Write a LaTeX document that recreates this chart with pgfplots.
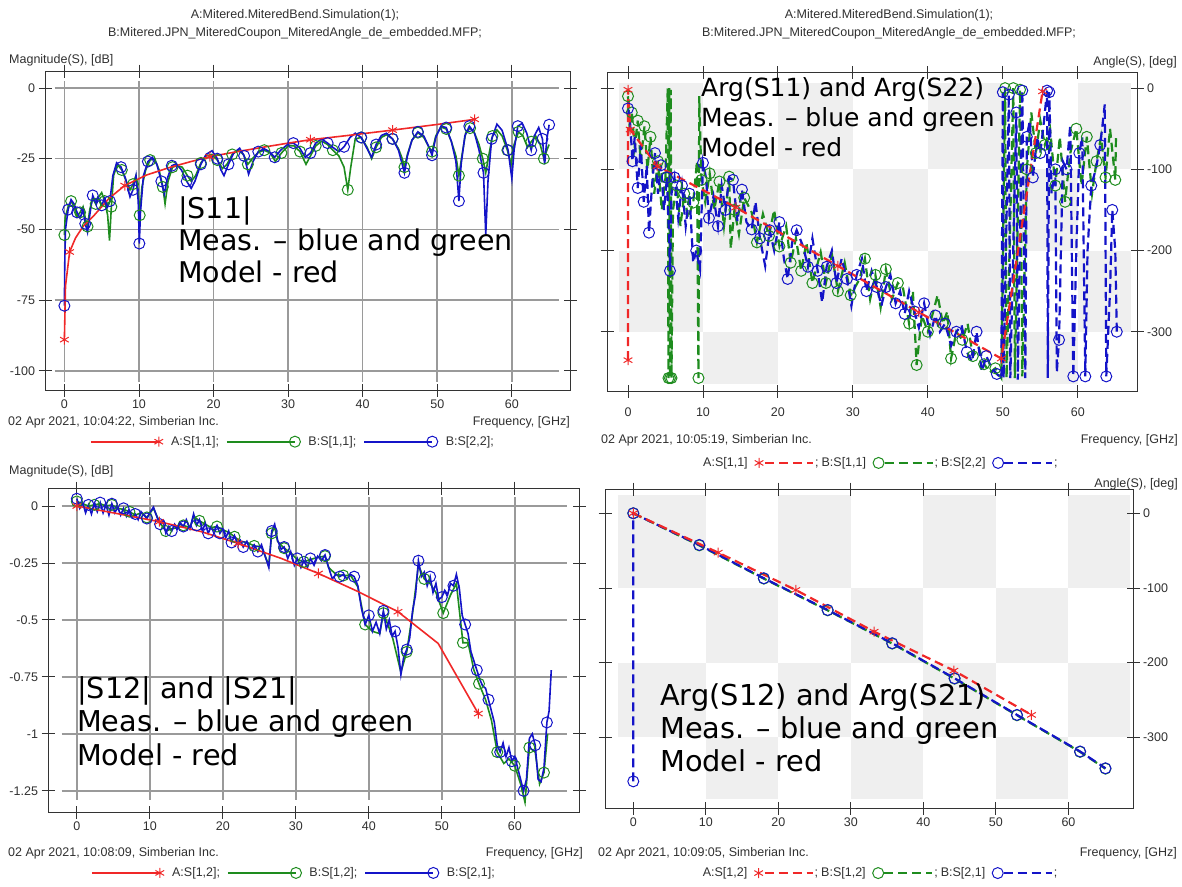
\documentclass[border=0pt]{standalone}
\usepackage{fontspec}
\setmainfont{Liberation Sans}
\newfontfamily\annof{DejaVu Sans}
\usepackage{xcolor}
\definecolor{cR}{HTML}{F02828}
\definecolor{cG}{HTML}{1E8C1E}
\definecolor{cB}{HTML}{1414C8}
\definecolor{gridc}{HTML}{9A9A9A}
\definecolor{chk}{HTML}{EFEFEF}
\definecolor{txt}{HTML}{303030}
\usepackage{pgfplots}
\pgfplotsset{compat=1.18}
\newcommand\smallf{\fontsize{12.5}{14}\selectfont}

\pgfplotsset{
  simbase/.style={
    scale only axis, set layers,
    axis line style={line width=1pt, black!80},
    tick align=center, major tick length=13pt,
    tick style={line width=0.9pt, black!80},
    tick label style={font=\smallf, color=txt},
    /pgf/number format/assume math mode=true,
    xtick={0,10,...,60},
    legend style={draw=none, fill=none, font=\smallf, text=txt,
      legend columns=-1, anchor=center, inner sep=0pt},
  },
  solidleg/.style={
    legend style={/tikz/every even column/.append style={column sep=5pt},
      /tikz/every odd column/.append style={column sep=6pt}},
    legend image code/.code={
    \draw[##1, line width=1.8pt] (0pt,0pt) -- (68pt,0pt);
    \draw[##1] plot coordinates {(68pt,0pt)};}},
  dashleg/.style={legend plot pos=right,
    legend style={/tikz/every odd column/.append style={column sep=5pt},
      /tikz/every even column/.append style={column sep=0pt}},
    legend image code/.code={
    \draw[##1] (10pt,0pt) -- (58pt,0pt);
    \draw[##1] plot coordinates {(4pt,0pt)};
    \node[anchor=west, inner sep=1pt, font=\smallf, text=txt] at (58pt,-1pt) {;};}},
  meas/.style={line width=1.6pt, mark=o, mark size=5.5pt, mark options={line width=1pt}},
  mdl/.style={cR, line width=1.6pt, mark=asterisk, mark size=5pt, mark options={line width=1pt}},
  dsh/.style={dash pattern=on 9pt off 5pt, line width=2.2pt, mark=o, mark size=5.5pt, mark options={solid, line width=1pt}},
  dshr/.style={cR, dash pattern=on 9pt off 5pt, line width=2.2pt, mark=asterisk, mark size=5pt, mark options={solid, line width=1pt}},
}

\begin{document}
\begin{tikzpicture}
\path (0,0) rectangle (1182pt,-886pt);

% ---------- top left: |S11|
\begin{axis}[simbase, solidleg, at={(45pt,-390pt)}, anchor=south west,
  width=525pt, height=319pt,
  xmin=-2.6, xmax=67.8, ymin=-106.8, ymax=6.0,
  ytick={0,-25,-50,-75,-100},
  legend style={at={(0.472,-0.162)}}]
\begin{pgfonlayer}{axis background}
\pgfplotsinvokeforeach{0,10,20,30,40,50,60}{\draw[gridc, line width=1.6pt] (axis cs:#1,-103.9) -- (axis cs:#1,2.4);}
\pgfplotsinvokeforeach{0,-25,-50,-75,-100}{\draw[gridc, line width=1.6pt] (axis cs:-1.3,#1) -- (axis cs:66.3,#1);}
\end{pgfonlayer}
\addlegendimage{mdl}\addlegendentry{A:S[1,1];}
\addlegendimage{meas, cG}\addlegendentry{B:S[1,1];}
\addlegendimage{meas, cB}\addlegendentry{B:S[2,2];}
\addplot[meas, cG, mark repeat=3, forget plot] table {
x y
0 -52
0.1 -46
0.5 -42
0.9 -40
1.3 -42
1.7 -45.5
2.1 -44
2.5 -42
2.8 -46
3.1 -49
3.4 -43
3.8 -39
4.2 -41
4.6 -38.5
5.0 -37
5.4 -40
5.8 -45
6.05 -54
6.3 -42
6.6 -31
7.1 -27
7.7 -29
8.3 -33
8.8 -36
9.2 -34
9.6 -31
9.9 -37
10.1 -45
10.4 -35
10.9 -29
11.5 -25.5
12.1 -25
12.7 -29
13.2 -35
13.5 -41
13.9 -33
14.5 -28
15.1 -27.5
15.8 -28
16.5 -31
17.0 -33
17.6 -31
18.3 -26.5
19.0 -24
19.8 -23.5
20.5 -25.5
21.2 -28.5
21.8 -27
22.5 -23.5
23.3 -22
24.0 -23.5
24.6 -27
25.2 -25
26.0 -22.8
26.8 -22
27.6 -23
28.3 -26
29.1 -23
30.0 -20.5
30.8 -20.5
31.6 -22.5
32.4 -27
33.0 -24
33.7 -20.5
34.5 -18.8
35.3 -20
36.0 -22
36.8 -24
37.5 -28
38.0 -36
38.4 -28
39.0 -18
39.8 -17.5
40.6 -21
41.2 -25
41.8 -21
42.5 -17.5
43.2 -16.5
44.0 -18
44.8 -21.5
45.3 -25
45.6 -28
46.0 -23.5
46.6 -18.5
47.4 -15.8
48.2 -17.5
48.9 -21
49.3 -22.5
49.8 -17
50.5 -13.8
51.2 -14.5
51.9 -19
52.5 -24
52.9 -31
53.3 -24
53.8 -16
54.4 -14.2
55.0 -16
55.6 -20
56.1 -25
56.5 -30
56.9 -24
57.4 -17
58.0 -14.8
58.7 -17
59.4 -22
59.9 -27
60.3 -20
60.9 -15.5
61.5 -17
62.1 -21
62.6 -19
63.2 -17
63.8 -20
64.3 -25
64.7 -22
65.0 -20
};
\addplot[meas, cB, mark repeat=3, forget plot] table {
x y
0 -77
0.05 -62
0.15 -50
0.5 -43
0.9 -39.5
1.3 -41
1.7 -44
2.1 -46
2.5 -43
2.8 -48
3.1 -51
3.4 -45
3.8 -38
4.2 -40.5
4.6 -39
5.0 -41.5
5.4 -39
5.8 -42
6.1 -40
6.5 -31
7.0 -26.5
7.6 -28
8.2 -32
8.8 -38.5
9.2 -36
9.6 -31
9.9 -40
10.05 -55
10.2 -44
10.6 -31
11.2 -26
11.8 -24.5
12.4 -27
13.0 -33
13.4 -37.5
13.8 -32
14.4 -27.5
15.0 -26.8
15.7 -29
16.4 -33
17.0 -35.5
17.5 -33
18.3 -27
19.0 -23.5
19.8 -22.2
20.5 -25
21.0 -29
21.4 -31
22.0 -27
22.7 -23
23.5 -21.3
24.1 -24
24.7 -30.5
25.3 -26
26.0 -22.5
26.8 -21.5
27.5 -22.5
28.2 -24.5
29.0 -22
30.0 -19.8
30.7 -19.5
31.5 -21
32.3 -24.5
33.0 -23
33.7 -19.5
34.5 -18
35.3 -19.5
36.0 -21
36.8 -22.5
37.5 -20.8
38.3 -17.5
39.0 -16
39.8 -17.5
40.6 -21.5
41.2 -24.5
41.8 -20
42.5 -16.8
43.2 -16
44.0 -18
44.8 -22
45.3 -27
45.6 -30
46.0 -24
46.6 -18.5
47.4 -15.5
48.2 -17
48.9 -21
49.3 -23.8
49.8 -17.5
50.5 -13.5
51.2 -14
51.9 -19
52.5 -26
52.9 -40
53.2 -27
53.7 -17
54.3 -13.5
55.0 -16
55.6 -22
56.2 -30
56.5 -52
56.8 -33
57.3 -18
58.0 -12.8
58.7 -15
59.5 -22
60.0 -32
60.3 -22
60.8 -13.5
61.4 -12.5
62.0 -16
62.6 -22
63.0 -17
63.6 -14
64.1 -18
64.4 -27
64.7 -18
65.0 -13
};
\addplot[mdl, mark indices={1,3,8,12,16,18,20}, forget plot] table {
x y
0 -89
0.15 -70
0.7 -58
1.5 -53
2.5 -49
4 -45
6 -39
8.1 -34.5
11 -30.8
14 -28.2
17 -26
19.5 -24.3
23 -22.6
27 -20.8
30 -19.5
33 -18.3
38 -16.8
44 -14.9
50 -12.9
55 -11.1
};
\end{axis}

% ---------- top right: Arg(S11), Arg(S22)
\begin{axis}[simbase, dashleg, at={(607pt,-391pt)}, anchor=south west,
  width=530pt, height=318.3pt,
  xmin=-2.8, xmax=67.9, ymin=-373, ymax=19,
  ytick={0,-100,-200,-300}, yticklabel pos=right,
  xticklabel style={yshift=-7pt},
  legend style={at={(0.515,-0.226)}}]
\begin{pgfonlayer}{axis background}
\fill[chk] (axis cs:-1.25,-100) rectangle (axis cs:10,6);
\fill[chk] (axis cs:20,-100) rectangle (axis cs:30,6);
\fill[chk] (axis cs:40,-100) rectangle (axis cs:50,6);
\fill[chk] (axis cs:60,-100) rectangle (axis cs:67.1,6);
\fill[chk] (axis cs:10,-200) rectangle (axis cs:20,-100);
\fill[chk] (axis cs:30,-200) rectangle (axis cs:40,-100);
\fill[chk] (axis cs:50,-200) rectangle (axis cs:60,-100);
\fill[chk] (axis cs:-1.25,-300) rectangle (axis cs:10,-200);
\fill[chk] (axis cs:20,-300) rectangle (axis cs:30,-200);
\fill[chk] (axis cs:40,-300) rectangle (axis cs:50,-200);
\fill[chk] (axis cs:60,-300) rectangle (axis cs:67.1,-200);
\fill[chk] (axis cs:10,-364) rectangle (axis cs:20,-300);
\fill[chk] (axis cs:30,-364) rectangle (axis cs:40,-300);
\fill[chk] (axis cs:50,-364) rectangle (axis cs:60,-300);
\end{pgfonlayer}
\addlegendimage{dshr}\addlegendentry{A:S[1,1]}
\addlegendimage{dsh, cG}\addlegendentry{B:S[1,1]}
\addlegendimage{dsh, cB}\addlegendentry{B:S[2,2]}
\addplot[dsh, cG, mark repeat=2, forget plot] table {
x y
0 -10
0.2 -45
0.5 -30
0.9 -72
1.3 -40
1.7 -90
2.2 -47
2.6 -100
3.0 -60
3.5 -130
4.0 -90
4.5 -150
5.0 -110
5.3 0
5.4 -357
5.5 0
5.6 -357
5.7 -2
5.8 -357
6.0 -150
6.5 -120
7.0 -170
7.5 -130
8.0 -160
8.7 -141
9.2 -90
9.4 -357
9.5 -10
9.8 -113
10.3 -140
10.9 -105
11.5 -150
12.2 -115
12.8 -170
13.5 -109
13.7 -198
14.2 -150
14.8 -180
15.5 -135
16.5 -153
17.2 -190
18.0 -155
18.8 -182
19.5 -150
20.2 -195
21.1 -170
21.7 -215
22.4 -185
23.1 -225
23.8 -190
24.6 -240
25.7 -202
26.4 -240
27.2 -205
28.0 -250
28.9 -215
29.7 -255
30.9 -235
31.6 -210
32.3 -260
33.0 -230
33.7 -270
34.4 -223
35.2 -260
36.0 -240
36.7 -247
37.5 -290
38.0 -250
38.5 -341
39.2 -280
40.0 -300
41.3 -255
42.0 -290
42.6 -275
43.1 -333
43.8 -300
44.6 -310
45.3 -290
46.0 -330
46.8 -320
47.5 -340
48.3 -350
49.0 -345
49.8 -357
50.3 0
50.5 -357
51.4 0
51.6 -357
52.3 -2
52.6 -355
53.2 -100
53.8 -30
54.4 -80
55.0 -40
55.6 -70
56.3 -50
57.0 -120
57.6 -60
58.3 -140
59.0 -80
59.8 -50
60.5 -120
61.2 -60
61.9 -130
62.5 -90
63.1 -60
63.7 -110
64.3 -50
65.0 -113
65.1 -56
};
\addplot[dsh, cB, mark repeat=2, forget plot] table {
x y
0 -25
0.3 -45
0.6 -90
0.9 -60
1.3 -123
1.7 -70
2.1 -140
2.5 -95
2.8 -178
3.2 -120
3.6 -80
4.0 -130
4.4 -95
4.8 -150
5.2 -110
5.5 -190
5.6 -225
5.8 -130
6.2 -110
6.7 -160
7.2 -120
7.7 -170
8.2 -130
8.7 -215
9.1 -200
9.6 -223
10.0 -92
10.4 -110
10.8 -160
11.4 -133
12.0 -170
12.5 -120
13.0 -150
13.5 -110
14.0 -113
14.6 -164
15.2 -125
15.8 -165
16.5 -174
17.0 -140
17.6 -185
18.3 -219
18.9 -175
19.5 -200
20.2 -165
20.8 -210
21.3 -235
21.9 -190
22.5 -175
23.4 -196
24.0 -220
24.6 -185
25.3 -225
25.9 -264
26.5 -220
27.2 -200
27.8 -240
28.5 -210
29.2 -235
29.8 -268
30.5 -230
31.2 -210
31.8 -250
32.5 -225
33.2 -245
33.8 -268
34.4 -245
35.0 -230
35.7 -265
36.3 -250
36.9 -278
37.5 -250
38.2 -275
38.8 -295
39.5 -265
40.3 -304
41.0 -280
41.6 -300
42.3 -290
43.1 -317
43.8 -300
44.5 -292
45.2 -325
45.9 -337
46.5 -300
47.2 -349
47.8 -330
48.5 -345
49.2 -352
49.8 -357
50.0 -5
50.1 -357
50.8 -8
51.0 -357
51.8 -30
52.0 -359
52.6 -3
53.0 -357
53.2 -60
53.6 -40
54.0 -110
54.6 -60
55.0 -80
55.5 -40
55.9 -3
56.0 -357
56.2 -5
56.5 -130
57.0 -100
57.2 -350
57.5 -310
58.0 -90
58.5 -100
59.0 -45
59.4 -355
59.8 -200
60.2 -80
60.6 -60
61.0 -355
61.3 -200
61.8 -120
62.4 -100
63.0 -70
63.6 -20
63.8 -355
64.3 -250
64.6 -150
65.0 -200
65.2 -300
};
\addplot[dshr, forget plot] table {
x y
0 -335
0 -2
0.3 -51
3.9 -96
14.4 -147
28 -219
38.8 -276
49.8 -333
55.3 -4
};
\end{axis}

% ---------- bottom left: |S12|, |S21|
\begin{axis}[simbase, solidleg, at={(48pt,-812pt)}, anchor=south west,
  width=531pt, height=324pt,
  xmin=-3.95, xmax=68.8, ymin=-1.343, ymax=0.079,
  ytick={0,-0.25,-0.5,-0.75,-1,-1.25},
  yticklabel style={/pgf/number format/fixed},
  legend style={at={(0.463,-0.188)}}]
\begin{pgfonlayer}{axis background}
\pgfplotsinvokeforeach{0,10,20,30,40,50,60}{\draw[gridc, line width=1.6pt] (axis cs:#1,-1.29) -- (axis cs:#1,0.041);}
\pgfplotsinvokeforeach{0,-0.25,-0.5,-0.75,-1,-1.25}{\draw[gridc, line width=1.6pt] (axis cs:-2.1,#1) -- (axis cs:67.1,#1);}
\end{pgfonlayer}
\addlegendimage{mdl}\addlegendentry{A:S[1,2];}
\addlegendimage{meas, cG}\addlegendentry{B:S[1,2];}
\addlegendimage{meas, cB}\addlegendentry{B:S[2,1];}
\addplot[meas, cG, mark repeat=3, forget plot] table {
x y
0 0.02
0.8 0.01
1.6 0.0
2.4 0.005
3.2 0.01
4.0 0.0
4.8 0.005
5.6 -0.01
6.4 -0.015
7.2 -0.025
8.0 -0.04
8.8 -0.03
9.6 -0.05
10.5 -0.01
11.4 -0.075
12.2 -0.11
13.0 -0.1
13.8 -0.095
14.6 -0.085
15.5 -0.095
16.0 -0.045
16.8 -0.065
17.6 -0.08
18.4 -0.095
19.2 -0.09
20.0 -0.105
20.8 -0.115
21.6 -0.135
22.4 -0.155
23.3 -0.16
24.3 -0.175
25.3 -0.18
26.3 -0.26
26.7 -0.12
27.1 -0.09
27.5 -0.155
28.4 -0.185
29.3 -0.205
30.2 -0.235
31.1 -0.245
32.0 -0.235
33.0 -0.225
34.0 -0.22
34.5 -0.27
35.5 -0.3
36.5 -0.305
37.5 -0.305
38.5 -0.355
39.5 -0.52
40.5 -0.55
41.5 -0.56
42.0 -0.47
43.2 -0.57
44.4 -0.73
45.2 -0.64
46.0 -0.47
46.8 -0.26
47.6 -0.32
48.4 -0.34
49.2 -0.38
50.2 -0.47
51.2 -0.39
52.0 -0.34
52.9 -0.6
53.6 -0.6
54.4 -0.72
55.1 -0.78
56.0 -0.85
56.8 -0.94
57.6 -1.08
58.5 -1.13
59.2 -1.11
60.0 -1.14
60.8 -1.22
61.4 -1.3
62.0 -1.06
62.8 -1.08
63.4 -1.22
64.0 -1.17
64.5 -1.0
};
\addplot[meas, cB, mark repeat=4, forget plot] table {
x y
0 0.032
0.4 -0.01
0.8 0.015
1.2 -0.03
1.6 0.005
2.0 -0.035
2.4 0.01
2.8 -0.025
3.2 0.015
3.6 -0.03
4.0 0.005
4.4 -0.04
4.8 0.01
5.2 -0.03
5.6 -0.005
6.0 -0.04
6.4 -0.01
6.8 -0.045
7.2 -0.02
7.6 -0.05
8.0 -0.035
8.4 -0.06
8.8 -0.025
9.2 -0.04
9.6 -0.055
10.0 -0.03
10.5 -0.005
11.0 -0.05
11.4 -0.08
11.8 -0.065
12.2 -0.12
12.6 -0.09
13.0 -0.11
13.4 -0.08
13.8 -0.1
14.2 -0.075
14.6 -0.09
15.0 -0.06
15.5 -0.1
16.0 -0.035
16.4 -0.085
16.8 -0.06
17.2 -0.11
17.6 -0.075
18.0 -0.12
18.4 -0.09
18.8 -0.11
19.2 -0.085
19.6 -0.12
20.0 -0.1
20.4 -0.14
20.8 -0.11
21.2 -0.16
21.6 -0.13
22.0 -0.165
22.4 -0.15
22.8 -0.18
23.3 -0.155
23.8 -0.19
24.3 -0.17
24.8 -0.2
25.3 -0.17
25.8 -0.22
26.3 -0.27
26.7 -0.11
27.1 -0.08
27.5 -0.15
28.0 -0.19
28.4 -0.18
28.9 -0.23
29.3 -0.2
29.8 -0.26
30.2 -0.23
30.7 -0.27
31.1 -0.24
31.6 -0.27
32.0 -0.23
32.5 -0.26
33.0 -0.22
33.5 -0.24
34.0 -0.215
34.5 -0.27
35.0 -0.32
35.5 -0.3
36.0 -0.31
36.5 -0.3
37.0 -0.32
37.5 -0.3
38.0 -0.31
38.5 -0.35
39.0 -0.45
39.5 -0.52
40.0 -0.48
40.5 -0.55
41.0 -0.51
41.5 -0.56
42.0 -0.46
42.4 -0.54
42.8 -0.5
43.2 -0.57
43.6 -0.55
44.0 -0.62
44.4 -0.74
44.8 -0.66
45.2 -0.63
45.6 -0.58
46.0 -0.46
46.4 -0.39
46.8 -0.24
47.2 -0.31
47.6 -0.29
48.0 -0.35
48.4 -0.31
48.8 -0.38
49.2 -0.34
49.6 -0.41
50.0 -0.4
50.4 -0.37
50.8 -0.39
51.2 -0.34
51.6 -0.35
52.0 -0.3
52.4 -0.36
52.8 -0.48
53.2 -0.52
53.6 -0.56
54.0 -0.64
54.4 -0.68
54.8 -0.72
55.2 -0.76
55.6 -0.79
56.0 -0.8
56.4 -0.85
56.8 -0.9
57.2 -0.95
57.6 -1.05
58.0 -1.08
58.4 -1.04
58.8 -1.1
59.2 -1.06
59.6 -1.12
60.0 -1.1
60.4 -1.15
60.8 -1.2
61.2 -1.25
61.6 -1.2
62.0 -1.02
62.4 -1.0
62.8 -1.05
63.2 -1.2
63.6 -1.21
64.0 -1.15
64.4 -0.95
64.7 -0.9
65.0 -0.72
};
\addplot[mdl, mark indices={1,3,5,7,9,11}, forget plot] table {
x y
0 0
5 -0.03
11.3 -0.069
17 -0.112
22.1 -0.164
28 -0.23
33.1 -0.296
38.5 -0.375
44 -0.464
49.5 -0.603
55 -0.911
};
\end{axis}

% ---------- bottom right: Arg(S12), Arg(S21)
\begin{axis}[simbase, dashleg, at={(605pt,-808pt)}, anchor=south west,
  width=528pt, height=319pt,
  xmin=-3.9, xmax=68.9, ymin=-394.7, ymax=32.5,
  ytick={0,-100,-200,-300}, yticklabel pos=right,
  legend style={at={(0.52,-0.204)}}]
\begin{pgfonlayer}{axis background}
\fill[chk] (axis cs:-2.1,-100) rectangle (axis cs:10,24.5);
\fill[chk] (axis cs:20,-100) rectangle (axis cs:30,24.5);
\fill[chk] (axis cs:40,-100) rectangle (axis cs:50,24.5);
\fill[chk] (axis cs:60,-100) rectangle (axis cs:68.5,24.5);
\fill[chk] (axis cs:10,-200) rectangle (axis cs:20,-100);
\fill[chk] (axis cs:30,-200) rectangle (axis cs:40,-100);
\fill[chk] (axis cs:50,-200) rectangle (axis cs:60,-100);
\fill[chk] (axis cs:-2.1,-300) rectangle (axis cs:10,-200);
\fill[chk] (axis cs:20,-300) rectangle (axis cs:30,-200);
\fill[chk] (axis cs:40,-300) rectangle (axis cs:50,-200);
\fill[chk] (axis cs:60,-300) rectangle (axis cs:68.5,-200);
\fill[chk] (axis cs:10,-382) rectangle (axis cs:20,-300);
\fill[chk] (axis cs:30,-382) rectangle (axis cs:40,-300);
\fill[chk] (axis cs:50,-382) rectangle (axis cs:60,-300);
\end{pgfonlayer}
\addlegendimage{dshr}\addlegendentry{A:S[1,2]}
\addlegendimage{dsh, cG}\addlegendentry{B:S[1,2]}
\addlegendimage{dsh, cB}\addlegendentry{B:S[2,1]}
\addplot[dsh, cG, forget plot] table {
x y
0 0
9.1 -43
18 -87.5
26.8 -130
35.7 -174.5
44.3 -221.5
52.9 -270.5
61.6 -319.5
65.1 -342
};
\addplot[dsh, cB, forget plot] table {
x y
0 -359
0 0
9.1 -42.4
18 -87
26.8 -129.5
35.7 -174
44.3 -221
52.9 -270
61.6 -319
65.1 -341.5
};
\addplot[dshr, forget plot] table {
x y
0 0
11.7 -52.7
22.4 -102.7
33.2 -158.5
44.2 -210.7
54.9 -270
};
\end{axis}

% ---------- texts around the panels
\begin{scope}[every node/.style={font=\smallf, text=txt, inner sep=0pt}]
\node at (295pt,-15pt) {A:Mitered.MiteredBend.Simulation(1);};
\node at (295pt,-33pt) {B:Mitered.JPN\_MiteredCoupon\_MiteredAngle\_de\_embedded.MFP;};
\node at (889pt,-15pt) {A:Mitered.MiteredBend.Simulation(1);};
\node at (889pt,-33pt) {B:Mitered.JPN\_MiteredCoupon\_MiteredAngle\_de\_embedded.MFP;};
\node[anchor=west] at (9pt,-60pt) {Magnitude(S), [dB]};
\node[anchor=east] at (1177pt,-62pt) {Angle(S), [deg]};
\node[anchor=west] at (8pt,-422pt) {02 Apr 2021, 10:04:22, Simberian Inc.};
\node[anchor=east] at (570pt,-422pt) {Frequency, [GHz]};
\node[anchor=west] at (601pt,-440pt) {02 Apr 2021, 10:05:19, Simberian Inc.};
\node[anchor=east] at (1178pt,-440pt) {Frequency, [GHz]};
\node[anchor=west] at (9pt,-471pt) {Magnitude(S), [dB]};
\node[anchor=east] at (1178pt,-484pt) {Angle(S), [deg]};
\node[anchor=west] at (8pt,-853pt) {02 Apr 2021, 10:08:09, Simberian Inc.};
\node[anchor=east] at (583pt,-853pt) {Frequency, [GHz]};
\node[anchor=west] at (598pt,-853pt) {02 Apr 2021, 10:09:05, Simberian Inc.};
\node[anchor=east] at (1177pt,-853pt) {Frequency, [GHz]};
\end{scope}

% ---------- annotations
\begin{scope}[every node/.style={anchor=north west, inner sep=0pt, align=left, text=black}]
\node[font=\annof\fontsize{28.5}{32}\selectfont] at (178pt,-197pt) {|S11|\\Meas. – blue and green\\Model - red};
\node[font=\annof\fontsize{25}{30}\selectfont] at (701pt,-77pt) {Arg(S11) and Arg(S22)\\Meas. – blue and green\\Model - red};
\node[font=\annof\fontsize{28.7}{33.5}\selectfont] at (77pt,-676pt) {|S12| and |S21|\\Meas. – blue and green\\Model - red};
\node[font=\annof\fontsize{28.8}{33}\selectfont] at (660pt,-683pt) {Arg(S12) and Arg(S21)\\Meas. – blue and green\\Model - red};
\end{scope}
\pgfresetboundingbox
\useasboundingbox (0,0) rectangle (1182pt,-886pt);
\end{tikzpicture}
\end{document}
